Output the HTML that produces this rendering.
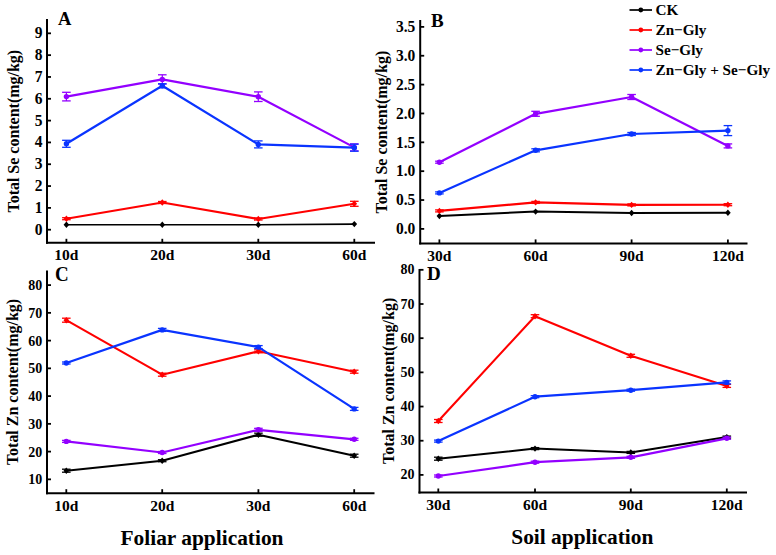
<!DOCTYPE html>
<html><head><meta charset="utf-8"><style>
html,body{margin:0;padding:0;background:#fff;}
svg{display:block;}
text{font-family:"Liberation Serif", serif;font-weight:bold;fill:#000;}
</style></head><body>
<svg width="776" height="555" viewBox="0 0 776 555">
<rect width="776" height="555" fill="#fff"/>
<line x1="47" y1="19" x2="47" y2="243.8" stroke="#000" stroke-width="2" stroke-linecap="butt"/>
<line x1="46" y1="242.8" x2="375" y2="242.8" stroke="#000" stroke-width="2" stroke-linecap="butt"/>
<line x1="47" y1="229.7" x2="51" y2="229.7" stroke="#000" stroke-width="1.8" stroke-linecap="butt"/>
<text transform="translate(42.6,229.70) scale(1,1.08)" x="0" y="4.6" text-anchor="end" font-size="15.5">0</text>
<line x1="47" y1="207.88" x2="51" y2="207.88" stroke="#000" stroke-width="1.8" stroke-linecap="butt"/>
<text transform="translate(42.6,207.88) scale(1,1.08)" x="0" y="4.6" text-anchor="end" font-size="15.5">1</text>
<line x1="47" y1="186.06" x2="51" y2="186.06" stroke="#000" stroke-width="1.8" stroke-linecap="butt"/>
<text transform="translate(42.6,186.06) scale(1,1.08)" x="0" y="4.6" text-anchor="end" font-size="15.5">2</text>
<line x1="47" y1="164.23999999999998" x2="51" y2="164.23999999999998" stroke="#000" stroke-width="1.8" stroke-linecap="butt"/>
<text transform="translate(42.6,164.24) scale(1,1.08)" x="0" y="4.6" text-anchor="end" font-size="15.5">3</text>
<line x1="47" y1="142.42" x2="51" y2="142.42" stroke="#000" stroke-width="1.8" stroke-linecap="butt"/>
<text transform="translate(42.6,142.42) scale(1,1.08)" x="0" y="4.6" text-anchor="end" font-size="15.5">4</text>
<line x1="47" y1="120.6" x2="51" y2="120.6" stroke="#000" stroke-width="1.8" stroke-linecap="butt"/>
<text transform="translate(42.6,120.60) scale(1,1.08)" x="0" y="4.6" text-anchor="end" font-size="15.5">5</text>
<line x1="47" y1="98.77999999999997" x2="51" y2="98.77999999999997" stroke="#000" stroke-width="1.8" stroke-linecap="butt"/>
<text transform="translate(42.6,98.78) scale(1,1.08)" x="0" y="4.6" text-anchor="end" font-size="15.5">6</text>
<line x1="47" y1="76.95999999999998" x2="51" y2="76.95999999999998" stroke="#000" stroke-width="1.8" stroke-linecap="butt"/>
<text transform="translate(42.6,76.96) scale(1,1.08)" x="0" y="4.6" text-anchor="end" font-size="15.5">7</text>
<line x1="47" y1="55.139999999999986" x2="51" y2="55.139999999999986" stroke="#000" stroke-width="1.8" stroke-linecap="butt"/>
<text transform="translate(42.6,55.14) scale(1,1.08)" x="0" y="4.6" text-anchor="end" font-size="15.5">8</text>
<line x1="47" y1="33.31999999999999" x2="51" y2="33.31999999999999" stroke="#000" stroke-width="1.8" stroke-linecap="butt"/>
<text transform="translate(42.6,33.32) scale(1,1.08)" x="0" y="4.6" text-anchor="end" font-size="15.5">9</text>
<line x1="66.4" y1="242.8" x2="66.4" y2="238.8" stroke="#000" stroke-width="1.8" stroke-linecap="butt"/>
<text x="66.4" y="259.6" text-anchor="middle" font-size="15.5" >10d</text>
<line x1="162.3" y1="242.8" x2="162.3" y2="238.8" stroke="#000" stroke-width="1.8" stroke-linecap="butt"/>
<text x="162.3" y="259.6" text-anchor="middle" font-size="15.5" >20d</text>
<line x1="258.3" y1="242.8" x2="258.3" y2="238.8" stroke="#000" stroke-width="1.8" stroke-linecap="butt"/>
<text x="258.3" y="259.6" text-anchor="middle" font-size="15.5" >30d</text>
<line x1="354.3" y1="242.8" x2="354.3" y2="238.8" stroke="#000" stroke-width="1.8" stroke-linecap="butt"/>
<text x="354.3" y="259.6" text-anchor="middle" font-size="15.5" >60d</text>
<text transform="translate(58.0,25.1) scale(1,1)" x="0" y="0" font-size="18.5">A</text>
<text transform="translate(18.7,131.2) rotate(-90) scale(1.018,1)" text-anchor="middle" font-size="15.7" >Total Se content(mg/kg)</text>
<polyline points="66.4,224.8 162.3,224.7 258.3,224.8 354.3,224.1" fill="none" stroke="#000000" stroke-width="1.6" stroke-linejoin="round"/>
<path d="M66.4,221.60000000000002 L69.2,224.8 L66.4,228.0 L63.60000000000001,224.8 Z" fill="#000000"/>
<path d="M162.3,221.5 L165.10000000000002,224.7 L162.3,227.89999999999998 L159.5,224.7 Z" fill="#000000"/>
<path d="M258.3,221.60000000000002 L261.1,224.8 L258.3,228.0 L255.5,224.8 Z" fill="#000000"/>
<path d="M354.3,220.9 L357.1,224.1 L354.3,227.29999999999998 L351.5,224.1 Z" fill="#000000"/>
<polyline points="66.4,218.7 162.3,202.5 258.3,219.0 354.3,203.8" fill="none" stroke="#ff0000" stroke-width="2.1" stroke-linejoin="round"/>
<line x1="66.4" y1="217.7" x2="66.4" y2="219.7" stroke="#ff0000" stroke-width="1.2" stroke-linecap="butt"/>
<line x1="62.10000000000001" y1="217.7" x2="70.7" y2="217.7" stroke="#ff0000" stroke-width="1.3" stroke-linecap="butt"/>
<line x1="62.10000000000001" y1="219.7" x2="70.7" y2="219.7" stroke="#ff0000" stroke-width="1.3" stroke-linecap="butt"/>
<path d="M66.4,215.5 L69.2,218.7 L66.4,221.89999999999998 L63.60000000000001,218.7 Z" fill="#ff0000"/>
<line x1="162.3" y1="201.5" x2="162.3" y2="203.5" stroke="#ff0000" stroke-width="1.2" stroke-linecap="butt"/>
<line x1="158.0" y1="201.5" x2="166.60000000000002" y2="201.5" stroke="#ff0000" stroke-width="1.3" stroke-linecap="butt"/>
<line x1="158.0" y1="203.5" x2="166.60000000000002" y2="203.5" stroke="#ff0000" stroke-width="1.3" stroke-linecap="butt"/>
<path d="M162.3,199.3 L165.10000000000002,202.5 L162.3,205.7 L159.5,202.5 Z" fill="#ff0000"/>
<line x1="258.3" y1="218.0" x2="258.3" y2="220.0" stroke="#ff0000" stroke-width="1.2" stroke-linecap="butt"/>
<line x1="254.0" y1="218.0" x2="262.6" y2="218.0" stroke="#ff0000" stroke-width="1.3" stroke-linecap="butt"/>
<line x1="254.0" y1="220.0" x2="262.6" y2="220.0" stroke="#ff0000" stroke-width="1.3" stroke-linecap="butt"/>
<path d="M258.3,215.8 L261.1,219.0 L258.3,222.2 L255.5,219.0 Z" fill="#ff0000"/>
<line x1="354.3" y1="201.3" x2="354.3" y2="206.3" stroke="#ff0000" stroke-width="1.2" stroke-linecap="butt"/>
<line x1="350.0" y1="201.3" x2="358.6" y2="201.3" stroke="#ff0000" stroke-width="1.3" stroke-linecap="butt"/>
<line x1="350.0" y1="206.3" x2="358.6" y2="206.3" stroke="#ff0000" stroke-width="1.3" stroke-linecap="butt"/>
<path d="M354.3,200.60000000000002 L357.1,203.8 L354.3,207.0 L351.5,203.8 Z" fill="#ff0000"/>
<polyline points="66.4,96.6 162.3,79.4 258.3,96.7 354.3,147.4" fill="none" stroke="#9300ff" stroke-width="2.2" stroke-linejoin="round"/>
<line x1="66.4" y1="92.3" x2="66.4" y2="100.89999999999999" stroke="#9300ff" stroke-width="1.2" stroke-linecap="butt"/>
<line x1="62.10000000000001" y1="92.3" x2="70.7" y2="92.3" stroke="#9300ff" stroke-width="1.3" stroke-linecap="butt"/>
<line x1="62.10000000000001" y1="100.89999999999999" x2="70.7" y2="100.89999999999999" stroke="#9300ff" stroke-width="1.3" stroke-linecap="butt"/>
<circle cx="66.4" cy="96.6" r="2.7" fill="#9300ff"/>
<line x1="162.3" y1="74.80000000000001" x2="162.3" y2="84.0" stroke="#9300ff" stroke-width="1.2" stroke-linecap="butt"/>
<line x1="158.0" y1="74.80000000000001" x2="166.60000000000002" y2="74.80000000000001" stroke="#9300ff" stroke-width="1.3" stroke-linecap="butt"/>
<line x1="158.0" y1="84.0" x2="166.60000000000002" y2="84.0" stroke="#9300ff" stroke-width="1.3" stroke-linecap="butt"/>
<circle cx="162.3" cy="79.4" r="2.7" fill="#9300ff"/>
<line x1="258.3" y1="91.9" x2="258.3" y2="101.5" stroke="#9300ff" stroke-width="1.2" stroke-linecap="butt"/>
<line x1="254.0" y1="91.9" x2="262.6" y2="91.9" stroke="#9300ff" stroke-width="1.3" stroke-linecap="butt"/>
<line x1="254.0" y1="101.5" x2="262.6" y2="101.5" stroke="#9300ff" stroke-width="1.3" stroke-linecap="butt"/>
<circle cx="258.3" cy="96.7" r="2.7" fill="#9300ff"/>
<line x1="354.3" y1="143.9" x2="354.3" y2="150.9" stroke="#9300ff" stroke-width="1.2" stroke-linecap="butt"/>
<line x1="350.0" y1="143.9" x2="358.6" y2="143.9" stroke="#9300ff" stroke-width="1.3" stroke-linecap="butt"/>
<line x1="350.0" y1="150.9" x2="358.6" y2="150.9" stroke="#9300ff" stroke-width="1.3" stroke-linecap="butt"/>
<circle cx="354.3" cy="147.4" r="2.7" fill="#9300ff"/>
<polyline points="66.4,143.8 162.3,85.8 258.3,144.4 354.3,147.7" fill="none" stroke="#0a34ff" stroke-width="2.2" stroke-linejoin="round"/>
<line x1="66.4" y1="140.3" x2="66.4" y2="147.3" stroke="#0a34ff" stroke-width="1.2" stroke-linecap="butt"/>
<line x1="62.10000000000001" y1="140.3" x2="70.7" y2="140.3" stroke="#0a34ff" stroke-width="1.3" stroke-linecap="butt"/>
<line x1="62.10000000000001" y1="147.3" x2="70.7" y2="147.3" stroke="#0a34ff" stroke-width="1.3" stroke-linecap="butt"/>
<circle cx="66.4" cy="143.8" r="2.7" fill="#0a34ff"/>
<line x1="162.3" y1="83.8" x2="162.3" y2="87.8" stroke="#0a34ff" stroke-width="1.2" stroke-linecap="butt"/>
<line x1="158.0" y1="83.8" x2="166.60000000000002" y2="83.8" stroke="#0a34ff" stroke-width="1.3" stroke-linecap="butt"/>
<line x1="158.0" y1="87.8" x2="166.60000000000002" y2="87.8" stroke="#0a34ff" stroke-width="1.3" stroke-linecap="butt"/>
<circle cx="162.3" cy="85.8" r="2.7" fill="#0a34ff"/>
<line x1="258.3" y1="140.9" x2="258.3" y2="147.9" stroke="#0a34ff" stroke-width="1.2" stroke-linecap="butt"/>
<line x1="254.0" y1="140.9" x2="262.6" y2="140.9" stroke="#0a34ff" stroke-width="1.3" stroke-linecap="butt"/>
<line x1="254.0" y1="147.9" x2="262.6" y2="147.9" stroke="#0a34ff" stroke-width="1.3" stroke-linecap="butt"/>
<circle cx="258.3" cy="144.4" r="2.7" fill="#0a34ff"/>
<line x1="354.3" y1="144.2" x2="354.3" y2="151.2" stroke="#0a34ff" stroke-width="1.2" stroke-linecap="butt"/>
<line x1="350.0" y1="144.2" x2="358.6" y2="144.2" stroke="#0a34ff" stroke-width="1.3" stroke-linecap="butt"/>
<line x1="350.0" y1="151.2" x2="358.6" y2="151.2" stroke="#0a34ff" stroke-width="1.3" stroke-linecap="butt"/>
<circle cx="354.3" cy="147.7" r="2.7" fill="#0a34ff"/>
<line x1="420.2" y1="20" x2="420.2" y2="244.4" stroke="#000" stroke-width="2" stroke-linecap="butt"/>
<line x1="419.2" y1="243.4" x2="747.5" y2="243.4" stroke="#000" stroke-width="2" stroke-linecap="butt"/>
<line x1="420.2" y1="228.9" x2="424.2" y2="228.9" stroke="#000" stroke-width="1.8" stroke-linecap="butt"/>
<text transform="translate(415.3,228.90) scale(1,1.08)" x="0" y="4.9" text-anchor="end" font-size="15.5">0.0</text>
<line x1="420.2" y1="200.04000000000002" x2="424.2" y2="200.04000000000002" stroke="#000" stroke-width="1.8" stroke-linecap="butt"/>
<text transform="translate(415.3,200.04) scale(1,1.08)" x="0" y="4.9" text-anchor="end" font-size="15.5">0.5</text>
<line x1="420.2" y1="171.18" x2="424.2" y2="171.18" stroke="#000" stroke-width="1.8" stroke-linecap="butt"/>
<text transform="translate(415.3,171.18) scale(1,1.08)" x="0" y="4.9" text-anchor="end" font-size="15.5">1.0</text>
<line x1="420.2" y1="142.32" x2="424.2" y2="142.32" stroke="#000" stroke-width="1.8" stroke-linecap="butt"/>
<text transform="translate(415.3,142.32) scale(1,1.08)" x="0" y="4.9" text-anchor="end" font-size="15.5">1.5</text>
<line x1="420.2" y1="113.46000000000001" x2="424.2" y2="113.46000000000001" stroke="#000" stroke-width="1.8" stroke-linecap="butt"/>
<text transform="translate(415.3,113.46) scale(1,1.08)" x="0" y="4.9" text-anchor="end" font-size="15.5">2.0</text>
<line x1="420.2" y1="84.6" x2="424.2" y2="84.6" stroke="#000" stroke-width="1.8" stroke-linecap="butt"/>
<text transform="translate(415.3,84.60) scale(1,1.08)" x="0" y="4.9" text-anchor="end" font-size="15.5">2.5</text>
<line x1="420.2" y1="55.74000000000001" x2="424.2" y2="55.74000000000001" stroke="#000" stroke-width="1.8" stroke-linecap="butt"/>
<text transform="translate(415.3,55.74) scale(1,1.08)" x="0" y="4.9" text-anchor="end" font-size="15.5">3.0</text>
<line x1="420.2" y1="26.880000000000024" x2="424.2" y2="26.880000000000024" stroke="#000" stroke-width="1.8" stroke-linecap="butt"/>
<text transform="translate(415.3,26.88) scale(1,1.08)" x="0" y="4.9" text-anchor="end" font-size="15.5">3.5</text>
<line x1="439.4" y1="243.4" x2="439.4" y2="239.4" stroke="#000" stroke-width="1.8" stroke-linecap="butt"/>
<text x="439.4" y="260.6" text-anchor="middle" font-size="15.5" >30d</text>
<line x1="535.6" y1="243.4" x2="535.6" y2="239.4" stroke="#000" stroke-width="1.8" stroke-linecap="butt"/>
<text x="535.6" y="260.6" text-anchor="middle" font-size="15.5" >60d</text>
<line x1="631.6" y1="243.4" x2="631.6" y2="239.4" stroke="#000" stroke-width="1.8" stroke-linecap="butt"/>
<text x="631.6" y="260.6" text-anchor="middle" font-size="15.5" >90d</text>
<line x1="727.9" y1="243.4" x2="727.9" y2="239.4" stroke="#000" stroke-width="1.8" stroke-linecap="butt"/>
<text x="727.9" y="260.6" text-anchor="middle" font-size="15.5" >120d</text>
<text transform="translate(431,27.0) scale(1,1)" x="0" y="0" font-size="19">B</text>
<text transform="translate(387.3,132.1) rotate(-90) scale(1.018,1)" text-anchor="middle" font-size="15.7" >Total Se content(mg/kg)</text>
<polyline points="439.4,216.0 535.6,211.6 631.6,213.0 727.9,212.7" fill="none" stroke="#000000" stroke-width="2" stroke-linejoin="round"/>
<path d="M439.4,212.8 L442.2,216.0 L439.4,219.2 L436.59999999999997,216.0 Z" fill="#000000"/>
<path d="M535.6,208.4 L538.4,211.6 L535.6,214.79999999999998 L532.8000000000001,211.6 Z" fill="#000000"/>
<path d="M631.6,209.8 L634.4,213.0 L631.6,216.2 L628.8000000000001,213.0 Z" fill="#000000"/>
<path d="M727.9,209.5 L730.6999999999999,212.7 L727.9,215.89999999999998 L725.1,212.7 Z" fill="#000000"/>
<polyline points="439.4,210.9 535.6,202.4 631.6,204.9 727.9,204.7" fill="none" stroke="#ff0000" stroke-width="2.1" stroke-linejoin="round"/>
<line x1="439.4" y1="209.9" x2="439.4" y2="211.9" stroke="#ff0000" stroke-width="1.2" stroke-linecap="butt"/>
<line x1="435.09999999999997" y1="209.9" x2="443.7" y2="209.9" stroke="#ff0000" stroke-width="1.3" stroke-linecap="butt"/>
<line x1="435.09999999999997" y1="211.9" x2="443.7" y2="211.9" stroke="#ff0000" stroke-width="1.3" stroke-linecap="butt"/>
<path d="M439.4,207.70000000000002 L442.2,210.9 L439.4,214.1 L436.59999999999997,210.9 Z" fill="#ff0000"/>
<line x1="535.6" y1="201.4" x2="535.6" y2="203.4" stroke="#ff0000" stroke-width="1.2" stroke-linecap="butt"/>
<line x1="531.3000000000001" y1="201.4" x2="539.9" y2="201.4" stroke="#ff0000" stroke-width="1.3" stroke-linecap="butt"/>
<line x1="531.3000000000001" y1="203.4" x2="539.9" y2="203.4" stroke="#ff0000" stroke-width="1.3" stroke-linecap="butt"/>
<path d="M535.6,199.20000000000002 L538.4,202.4 L535.6,205.6 L532.8000000000001,202.4 Z" fill="#ff0000"/>
<line x1="631.6" y1="203.9" x2="631.6" y2="205.9" stroke="#ff0000" stroke-width="1.2" stroke-linecap="butt"/>
<line x1="627.3000000000001" y1="203.9" x2="635.9" y2="203.9" stroke="#ff0000" stroke-width="1.3" stroke-linecap="butt"/>
<line x1="627.3000000000001" y1="205.9" x2="635.9" y2="205.9" stroke="#ff0000" stroke-width="1.3" stroke-linecap="butt"/>
<path d="M631.6,201.70000000000002 L634.4,204.9 L631.6,208.1 L628.8000000000001,204.9 Z" fill="#ff0000"/>
<line x1="727.9" y1="203.7" x2="727.9" y2="205.7" stroke="#ff0000" stroke-width="1.2" stroke-linecap="butt"/>
<line x1="723.6" y1="203.7" x2="732.1999999999999" y2="203.7" stroke="#ff0000" stroke-width="1.3" stroke-linecap="butt"/>
<line x1="723.6" y1="205.7" x2="732.1999999999999" y2="205.7" stroke="#ff0000" stroke-width="1.3" stroke-linecap="butt"/>
<path d="M727.9,201.5 L730.6999999999999,204.7 L727.9,207.89999999999998 L725.1,204.7 Z" fill="#ff0000"/>
<polyline points="439.4,162.2 535.6,113.8 631.6,97.0 727.9,145.9" fill="none" stroke="#9300ff" stroke-width="2.2" stroke-linejoin="round"/>
<line x1="439.4" y1="161.2" x2="439.4" y2="163.2" stroke="#9300ff" stroke-width="1.2" stroke-linecap="butt"/>
<line x1="435.09999999999997" y1="161.2" x2="443.7" y2="161.2" stroke="#9300ff" stroke-width="1.3" stroke-linecap="butt"/>
<line x1="435.09999999999997" y1="163.2" x2="443.7" y2="163.2" stroke="#9300ff" stroke-width="1.3" stroke-linecap="butt"/>
<circle cx="439.4" cy="162.2" r="2.7" fill="#9300ff"/>
<line x1="535.6" y1="111.3" x2="535.6" y2="116.3" stroke="#9300ff" stroke-width="1.2" stroke-linecap="butt"/>
<line x1="531.3000000000001" y1="111.3" x2="539.9" y2="111.3" stroke="#9300ff" stroke-width="1.3" stroke-linecap="butt"/>
<line x1="531.3000000000001" y1="116.3" x2="539.9" y2="116.3" stroke="#9300ff" stroke-width="1.3" stroke-linecap="butt"/>
<circle cx="535.6" cy="113.8" r="2.7" fill="#9300ff"/>
<line x1="631.6" y1="94.5" x2="631.6" y2="99.5" stroke="#9300ff" stroke-width="1.2" stroke-linecap="butt"/>
<line x1="627.3000000000001" y1="94.5" x2="635.9" y2="94.5" stroke="#9300ff" stroke-width="1.3" stroke-linecap="butt"/>
<line x1="627.3000000000001" y1="99.5" x2="635.9" y2="99.5" stroke="#9300ff" stroke-width="1.3" stroke-linecap="butt"/>
<circle cx="631.6" cy="97.0" r="2.7" fill="#9300ff"/>
<line x1="727.9" y1="143.9" x2="727.9" y2="147.9" stroke="#9300ff" stroke-width="1.2" stroke-linecap="butt"/>
<line x1="723.6" y1="143.9" x2="732.1999999999999" y2="143.9" stroke="#9300ff" stroke-width="1.3" stroke-linecap="butt"/>
<line x1="723.6" y1="147.9" x2="732.1999999999999" y2="147.9" stroke="#9300ff" stroke-width="1.3" stroke-linecap="butt"/>
<circle cx="727.9" cy="145.9" r="2.7" fill="#9300ff"/>
<polyline points="439.4,192.9 535.6,150.3 631.6,134.0 727.9,130.6" fill="none" stroke="#0a34ff" stroke-width="2.2" stroke-linejoin="round"/>
<line x1="439.4" y1="191.9" x2="439.4" y2="193.9" stroke="#0a34ff" stroke-width="1.2" stroke-linecap="butt"/>
<line x1="435.09999999999997" y1="191.9" x2="443.7" y2="191.9" stroke="#0a34ff" stroke-width="1.3" stroke-linecap="butt"/>
<line x1="435.09999999999997" y1="193.9" x2="443.7" y2="193.9" stroke="#0a34ff" stroke-width="1.3" stroke-linecap="butt"/>
<circle cx="439.4" cy="192.9" r="2.7" fill="#0a34ff"/>
<line x1="535.6" y1="148.8" x2="535.6" y2="151.8" stroke="#0a34ff" stroke-width="1.2" stroke-linecap="butt"/>
<line x1="531.3000000000001" y1="148.8" x2="539.9" y2="148.8" stroke="#0a34ff" stroke-width="1.3" stroke-linecap="butt"/>
<line x1="531.3000000000001" y1="151.8" x2="539.9" y2="151.8" stroke="#0a34ff" stroke-width="1.3" stroke-linecap="butt"/>
<circle cx="535.6" cy="150.3" r="2.7" fill="#0a34ff"/>
<line x1="631.6" y1="132.5" x2="631.6" y2="135.5" stroke="#0a34ff" stroke-width="1.2" stroke-linecap="butt"/>
<line x1="627.3000000000001" y1="132.5" x2="635.9" y2="132.5" stroke="#0a34ff" stroke-width="1.3" stroke-linecap="butt"/>
<line x1="627.3000000000001" y1="135.5" x2="635.9" y2="135.5" stroke="#0a34ff" stroke-width="1.3" stroke-linecap="butt"/>
<circle cx="631.6" cy="134.0" r="2.7" fill="#0a34ff"/>
<line x1="727.9" y1="125.6" x2="727.9" y2="135.6" stroke="#0a34ff" stroke-width="1.2" stroke-linecap="butt"/>
<line x1="723.6" y1="125.6" x2="732.1999999999999" y2="125.6" stroke="#0a34ff" stroke-width="1.3" stroke-linecap="butt"/>
<line x1="723.6" y1="135.6" x2="732.1999999999999" y2="135.6" stroke="#0a34ff" stroke-width="1.3" stroke-linecap="butt"/>
<circle cx="727.9" cy="130.6" r="2.7" fill="#0a34ff"/>
<line x1="47" y1="270.5" x2="47" y2="494.2" stroke="#000" stroke-width="2" stroke-linecap="butt"/>
<line x1="46" y1="493.2" x2="374.5" y2="493.2" stroke="#000" stroke-width="2" stroke-linecap="butt"/>
<line x1="47" y1="479.35" x2="51" y2="479.35" stroke="#000" stroke-width="1.8" stroke-linecap="butt"/>
<text transform="translate(42.2,479.35) scale(1,1.0)" x="0" y="4.9" text-anchor="end" font-size="14">10</text>
<line x1="47" y1="451.6" x2="51" y2="451.6" stroke="#000" stroke-width="1.8" stroke-linecap="butt"/>
<text transform="translate(42.2,451.60) scale(1,1.0)" x="0" y="4.9" text-anchor="end" font-size="14">20</text>
<line x1="47" y1="423.85" x2="51" y2="423.85" stroke="#000" stroke-width="1.8" stroke-linecap="butt"/>
<text transform="translate(42.2,423.85) scale(1,1.0)" x="0" y="4.9" text-anchor="end" font-size="14">30</text>
<line x1="47" y1="396.1" x2="51" y2="396.1" stroke="#000" stroke-width="1.8" stroke-linecap="butt"/>
<text transform="translate(42.2,396.10) scale(1,1.0)" x="0" y="4.9" text-anchor="end" font-size="14">40</text>
<line x1="47" y1="368.35" x2="51" y2="368.35" stroke="#000" stroke-width="1.8" stroke-linecap="butt"/>
<text transform="translate(42.2,368.35) scale(1,1.0)" x="0" y="4.9" text-anchor="end" font-size="14">50</text>
<line x1="47" y1="340.6" x2="51" y2="340.6" stroke="#000" stroke-width="1.8" stroke-linecap="butt"/>
<text transform="translate(42.2,340.60) scale(1,1.0)" x="0" y="4.9" text-anchor="end" font-size="14">60</text>
<line x1="47" y1="312.85" x2="51" y2="312.85" stroke="#000" stroke-width="1.8" stroke-linecap="butt"/>
<text transform="translate(42.2,312.85) scale(1,1.0)" x="0" y="4.9" text-anchor="end" font-size="14">70</text>
<line x1="47" y1="285.1" x2="51" y2="285.1" stroke="#000" stroke-width="1.8" stroke-linecap="butt"/>
<text transform="translate(42.2,285.10) scale(1,1.0)" x="0" y="4.9" text-anchor="end" font-size="14">80</text>
<line x1="66.3" y1="493.2" x2="66.3" y2="489.2" stroke="#000" stroke-width="1.8" stroke-linecap="butt"/>
<text x="66.3" y="511" text-anchor="middle" font-size="15.5" >10d</text>
<line x1="162.2" y1="493.2" x2="162.2" y2="489.2" stroke="#000" stroke-width="1.8" stroke-linecap="butt"/>
<text x="162.2" y="511" text-anchor="middle" font-size="15.5" >20d</text>
<line x1="258.4" y1="493.2" x2="258.4" y2="489.2" stroke="#000" stroke-width="1.8" stroke-linecap="butt"/>
<text x="258.4" y="511" text-anchor="middle" font-size="15.5" >30d</text>
<line x1="354.2" y1="493.2" x2="354.2" y2="489.2" stroke="#000" stroke-width="1.8" stroke-linecap="butt"/>
<text x="354.2" y="511" text-anchor="middle" font-size="15.5" >60d</text>
<text transform="translate(55,281.4) scale(1,1.06)" x="0" y="0" font-size="19">C</text>
<text transform="translate(17.6,382.0) rotate(-90) scale(1.018,1)" text-anchor="middle" font-size="15.7" >Total Zn content(mg/kg)</text>
<polyline points="66.3,470.7 162.2,460.7 258.4,434.7 354.2,455.7" fill="none" stroke="#000000" stroke-width="2" stroke-linejoin="round"/>
<line x1="66.3" y1="469.2" x2="66.3" y2="472.2" stroke="#000000" stroke-width="1.2" stroke-linecap="butt"/>
<line x1="62.0" y1="469.2" x2="70.6" y2="469.2" stroke="#000000" stroke-width="1.3" stroke-linecap="butt"/>
<line x1="62.0" y1="472.2" x2="70.6" y2="472.2" stroke="#000000" stroke-width="1.3" stroke-linecap="butt"/>
<path d="M66.3,467.5 L69.1,470.7 L66.3,473.9 L63.5,470.7 Z" fill="#000000"/>
<line x1="162.2" y1="459.7" x2="162.2" y2="461.7" stroke="#000000" stroke-width="1.2" stroke-linecap="butt"/>
<line x1="157.89999999999998" y1="459.7" x2="166.5" y2="459.7" stroke="#000000" stroke-width="1.3" stroke-linecap="butt"/>
<line x1="157.89999999999998" y1="461.7" x2="166.5" y2="461.7" stroke="#000000" stroke-width="1.3" stroke-linecap="butt"/>
<path d="M162.2,457.5 L165.0,460.7 L162.2,463.9 L159.39999999999998,460.7 Z" fill="#000000"/>
<line x1="258.4" y1="433.2" x2="258.4" y2="436.2" stroke="#000000" stroke-width="1.2" stroke-linecap="butt"/>
<line x1="254.09999999999997" y1="433.2" x2="262.7" y2="433.2" stroke="#000000" stroke-width="1.3" stroke-linecap="butt"/>
<line x1="254.09999999999997" y1="436.2" x2="262.7" y2="436.2" stroke="#000000" stroke-width="1.3" stroke-linecap="butt"/>
<path d="M258.4,431.5 L261.2,434.7 L258.4,437.9 L255.59999999999997,434.7 Z" fill="#000000"/>
<line x1="354.2" y1="454.2" x2="354.2" y2="457.2" stroke="#000000" stroke-width="1.2" stroke-linecap="butt"/>
<line x1="349.9" y1="454.2" x2="358.5" y2="454.2" stroke="#000000" stroke-width="1.3" stroke-linecap="butt"/>
<line x1="349.9" y1="457.2" x2="358.5" y2="457.2" stroke="#000000" stroke-width="1.3" stroke-linecap="butt"/>
<path d="M354.2,452.5 L357.0,455.7 L354.2,458.9 L351.4,455.7 Z" fill="#000000"/>
<polyline points="66.3,320.2 162.2,374.7 258.4,351.3 354.2,371.7" fill="none" stroke="#ff0000" stroke-width="2.1" stroke-linejoin="round"/>
<line x1="66.3" y1="318.2" x2="66.3" y2="322.2" stroke="#ff0000" stroke-width="1.2" stroke-linecap="butt"/>
<line x1="62.0" y1="318.2" x2="70.6" y2="318.2" stroke="#ff0000" stroke-width="1.3" stroke-linecap="butt"/>
<line x1="62.0" y1="322.2" x2="70.6" y2="322.2" stroke="#ff0000" stroke-width="1.3" stroke-linecap="butt"/>
<path d="M66.3,317.0 L69.1,320.2 L66.3,323.4 L63.5,320.2 Z" fill="#ff0000"/>
<line x1="162.2" y1="373.2" x2="162.2" y2="376.2" stroke="#ff0000" stroke-width="1.2" stroke-linecap="butt"/>
<line x1="157.89999999999998" y1="373.2" x2="166.5" y2="373.2" stroke="#ff0000" stroke-width="1.3" stroke-linecap="butt"/>
<line x1="157.89999999999998" y1="376.2" x2="166.5" y2="376.2" stroke="#ff0000" stroke-width="1.3" stroke-linecap="butt"/>
<path d="M162.2,371.5 L165.0,374.7 L162.2,377.9 L159.39999999999998,374.7 Z" fill="#ff0000"/>
<line x1="258.4" y1="349.8" x2="258.4" y2="352.8" stroke="#ff0000" stroke-width="1.2" stroke-linecap="butt"/>
<line x1="254.09999999999997" y1="349.8" x2="262.7" y2="349.8" stroke="#ff0000" stroke-width="1.3" stroke-linecap="butt"/>
<line x1="254.09999999999997" y1="352.8" x2="262.7" y2="352.8" stroke="#ff0000" stroke-width="1.3" stroke-linecap="butt"/>
<path d="M258.4,348.1 L261.2,351.3 L258.4,354.5 L255.59999999999997,351.3 Z" fill="#ff0000"/>
<line x1="354.2" y1="370.2" x2="354.2" y2="373.2" stroke="#ff0000" stroke-width="1.2" stroke-linecap="butt"/>
<line x1="349.9" y1="370.2" x2="358.5" y2="370.2" stroke="#ff0000" stroke-width="1.3" stroke-linecap="butt"/>
<line x1="349.9" y1="373.2" x2="358.5" y2="373.2" stroke="#ff0000" stroke-width="1.3" stroke-linecap="butt"/>
<path d="M354.2,368.5 L357.0,371.7 L354.2,374.9 L351.4,371.7 Z" fill="#ff0000"/>
<polyline points="66.3,441.4 162.2,452.5 258.4,429.8 354.2,439.3" fill="none" stroke="#9300ff" stroke-width="2.2" stroke-linejoin="round"/>
<line x1="66.3" y1="440.4" x2="66.3" y2="442.4" stroke="#9300ff" stroke-width="1.2" stroke-linecap="butt"/>
<line x1="62.0" y1="440.4" x2="70.6" y2="440.4" stroke="#9300ff" stroke-width="1.3" stroke-linecap="butt"/>
<line x1="62.0" y1="442.4" x2="70.6" y2="442.4" stroke="#9300ff" stroke-width="1.3" stroke-linecap="butt"/>
<circle cx="66.3" cy="441.4" r="2.7" fill="#9300ff"/>
<line x1="162.2" y1="451.5" x2="162.2" y2="453.5" stroke="#9300ff" stroke-width="1.2" stroke-linecap="butt"/>
<line x1="157.89999999999998" y1="451.5" x2="166.5" y2="451.5" stroke="#9300ff" stroke-width="1.3" stroke-linecap="butt"/>
<line x1="157.89999999999998" y1="453.5" x2="166.5" y2="453.5" stroke="#9300ff" stroke-width="1.3" stroke-linecap="butt"/>
<circle cx="162.2" cy="452.5" r="2.7" fill="#9300ff"/>
<line x1="258.4" y1="428.3" x2="258.4" y2="431.3" stroke="#9300ff" stroke-width="1.2" stroke-linecap="butt"/>
<line x1="254.09999999999997" y1="428.3" x2="262.7" y2="428.3" stroke="#9300ff" stroke-width="1.3" stroke-linecap="butt"/>
<line x1="254.09999999999997" y1="431.3" x2="262.7" y2="431.3" stroke="#9300ff" stroke-width="1.3" stroke-linecap="butt"/>
<circle cx="258.4" cy="429.8" r="2.7" fill="#9300ff"/>
<line x1="354.2" y1="438.3" x2="354.2" y2="440.3" stroke="#9300ff" stroke-width="1.2" stroke-linecap="butt"/>
<line x1="349.9" y1="438.3" x2="358.5" y2="438.3" stroke="#9300ff" stroke-width="1.3" stroke-linecap="butt"/>
<line x1="349.9" y1="440.3" x2="358.5" y2="440.3" stroke="#9300ff" stroke-width="1.3" stroke-linecap="butt"/>
<circle cx="354.2" cy="439.3" r="2.7" fill="#9300ff"/>
<polyline points="66.3,363.0 162.2,329.9 258.4,347.1 354.2,408.9" fill="none" stroke="#0a34ff" stroke-width="2.2" stroke-linejoin="round"/>
<line x1="66.3" y1="362.0" x2="66.3" y2="364.0" stroke="#0a34ff" stroke-width="1.2" stroke-linecap="butt"/>
<line x1="62.0" y1="362.0" x2="70.6" y2="362.0" stroke="#0a34ff" stroke-width="1.3" stroke-linecap="butt"/>
<line x1="62.0" y1="364.0" x2="70.6" y2="364.0" stroke="#0a34ff" stroke-width="1.3" stroke-linecap="butt"/>
<circle cx="66.3" cy="363.0" r="2.7" fill="#0a34ff"/>
<line x1="162.2" y1="328.4" x2="162.2" y2="331.4" stroke="#0a34ff" stroke-width="1.2" stroke-linecap="butt"/>
<line x1="157.89999999999998" y1="328.4" x2="166.5" y2="328.4" stroke="#0a34ff" stroke-width="1.3" stroke-linecap="butt"/>
<line x1="157.89999999999998" y1="331.4" x2="166.5" y2="331.4" stroke="#0a34ff" stroke-width="1.3" stroke-linecap="butt"/>
<circle cx="162.2" cy="329.9" r="2.7" fill="#0a34ff"/>
<line x1="258.4" y1="345.6" x2="258.4" y2="348.6" stroke="#0a34ff" stroke-width="1.2" stroke-linecap="butt"/>
<line x1="254.09999999999997" y1="345.6" x2="262.7" y2="345.6" stroke="#0a34ff" stroke-width="1.3" stroke-linecap="butt"/>
<line x1="254.09999999999997" y1="348.6" x2="262.7" y2="348.6" stroke="#0a34ff" stroke-width="1.3" stroke-linecap="butt"/>
<circle cx="258.4" cy="347.1" r="2.7" fill="#0a34ff"/>
<line x1="354.2" y1="407.4" x2="354.2" y2="410.4" stroke="#0a34ff" stroke-width="1.2" stroke-linecap="butt"/>
<line x1="349.9" y1="407.4" x2="358.5" y2="407.4" stroke="#0a34ff" stroke-width="1.3" stroke-linecap="butt"/>
<line x1="349.9" y1="410.4" x2="358.5" y2="410.4" stroke="#0a34ff" stroke-width="1.3" stroke-linecap="butt"/>
<circle cx="354.2" cy="408.9" r="2.7" fill="#0a34ff"/>
<line x1="419.5" y1="269" x2="419.5" y2="493.5" stroke="#000" stroke-width="2" stroke-linecap="butt"/>
<line x1="418.5" y1="492.5" x2="747" y2="492.5" stroke="#000" stroke-width="2" stroke-linecap="butt"/>
<line x1="419.5" y1="474.9" x2="423.5" y2="474.9" stroke="#000" stroke-width="1.8" stroke-linecap="butt"/>
<text transform="translate(414.6,474.90) scale(1,1.0)" x="0" y="4.5" text-anchor="end" font-size="14">20</text>
<line x1="419.5" y1="440.71999999999997" x2="423.5" y2="440.71999999999997" stroke="#000" stroke-width="1.8" stroke-linecap="butt"/>
<text transform="translate(414.6,440.72) scale(1,1.0)" x="0" y="4.5" text-anchor="end" font-size="14">30</text>
<line x1="419.5" y1="406.53999999999996" x2="423.5" y2="406.53999999999996" stroke="#000" stroke-width="1.8" stroke-linecap="butt"/>
<text transform="translate(414.6,406.54) scale(1,1.0)" x="0" y="4.5" text-anchor="end" font-size="14">40</text>
<line x1="419.5" y1="372.36" x2="423.5" y2="372.36" stroke="#000" stroke-width="1.8" stroke-linecap="butt"/>
<text transform="translate(414.6,372.36) scale(1,1.0)" x="0" y="4.5" text-anchor="end" font-size="14">50</text>
<line x1="419.5" y1="338.17999999999995" x2="423.5" y2="338.17999999999995" stroke="#000" stroke-width="1.8" stroke-linecap="butt"/>
<text transform="translate(414.6,338.18) scale(1,1.0)" x="0" y="4.5" text-anchor="end" font-size="14">60</text>
<line x1="419.5" y1="304.0" x2="423.5" y2="304.0" stroke="#000" stroke-width="1.8" stroke-linecap="butt"/>
<text transform="translate(414.6,304.00) scale(1,1.0)" x="0" y="4.5" text-anchor="end" font-size="14">70</text>
<line x1="419.5" y1="269.82" x2="423.5" y2="269.82" stroke="#000" stroke-width="1.8" stroke-linecap="butt"/>
<text transform="translate(414.6,269.82) scale(1,1.0)" x="0" y="4.5" text-anchor="end" font-size="14">80</text>
<line x1="438.3" y1="492.5" x2="438.3" y2="488.5" stroke="#000" stroke-width="1.8" stroke-linecap="butt"/>
<text x="438.3" y="509.6" text-anchor="middle" font-size="15.5" >30d</text>
<line x1="535.0" y1="492.5" x2="535.0" y2="488.5" stroke="#000" stroke-width="1.8" stroke-linecap="butt"/>
<text x="535.0" y="509.6" text-anchor="middle" font-size="15.5" >60d</text>
<line x1="630.8" y1="492.5" x2="630.8" y2="488.5" stroke="#000" stroke-width="1.8" stroke-linecap="butt"/>
<text x="630.8" y="509.6" text-anchor="middle" font-size="15.5" >90d</text>
<line x1="726.8" y1="492.5" x2="726.8" y2="488.5" stroke="#000" stroke-width="1.8" stroke-linecap="butt"/>
<text x="726.8" y="509.6" text-anchor="middle" font-size="15.5" >120d</text>
<text transform="translate(427.0,279.6) scale(1,1)" x="0" y="0" font-size="19">D</text>
<text transform="translate(393.8,380.9) rotate(-90) scale(1.018,1)" text-anchor="middle" font-size="15.7" >Total Zn content(mg/kg)</text>
<polyline points="438.3,458.7 535.0,448.6 630.8,452.4 726.8,437.1" fill="none" stroke="#000000" stroke-width="2" stroke-linejoin="round"/>
<line x1="438.3" y1="457.2" x2="438.3" y2="460.2" stroke="#000000" stroke-width="1.2" stroke-linecap="butt"/>
<line x1="434.0" y1="457.2" x2="442.6" y2="457.2" stroke="#000000" stroke-width="1.3" stroke-linecap="butt"/>
<line x1="434.0" y1="460.2" x2="442.6" y2="460.2" stroke="#000000" stroke-width="1.3" stroke-linecap="butt"/>
<path d="M438.3,455.5 L441.1,458.7 L438.3,461.9 L435.5,458.7 Z" fill="#000000"/>
<line x1="535.0" y1="447.6" x2="535.0" y2="449.6" stroke="#000000" stroke-width="1.2" stroke-linecap="butt"/>
<line x1="530.7" y1="447.6" x2="539.3" y2="447.6" stroke="#000000" stroke-width="1.3" stroke-linecap="butt"/>
<line x1="530.7" y1="449.6" x2="539.3" y2="449.6" stroke="#000000" stroke-width="1.3" stroke-linecap="butt"/>
<path d="M535.0,445.40000000000003 L537.8,448.6 L535.0,451.8 L532.2,448.6 Z" fill="#000000"/>
<line x1="630.8" y1="451.4" x2="630.8" y2="453.4" stroke="#000000" stroke-width="1.2" stroke-linecap="butt"/>
<line x1="626.5" y1="451.4" x2="635.0999999999999" y2="451.4" stroke="#000000" stroke-width="1.3" stroke-linecap="butt"/>
<line x1="626.5" y1="453.4" x2="635.0999999999999" y2="453.4" stroke="#000000" stroke-width="1.3" stroke-linecap="butt"/>
<path d="M630.8,449.2 L633.5999999999999,452.4 L630.8,455.59999999999997 L628.0,452.4 Z" fill="#000000"/>
<line x1="726.8" y1="436.1" x2="726.8" y2="438.1" stroke="#000000" stroke-width="1.2" stroke-linecap="butt"/>
<line x1="722.5" y1="436.1" x2="731.0999999999999" y2="436.1" stroke="#000000" stroke-width="1.3" stroke-linecap="butt"/>
<line x1="722.5" y1="438.1" x2="731.0999999999999" y2="438.1" stroke="#000000" stroke-width="1.3" stroke-linecap="butt"/>
<path d="M726.8,433.90000000000003 L729.5999999999999,437.1 L726.8,440.3 L724.0,437.1 Z" fill="#000000"/>
<polyline points="438.3,421.0 535.0,316.2 630.8,355.8 726.8,385.9" fill="none" stroke="#ff0000" stroke-width="2.1" stroke-linejoin="round"/>
<line x1="438.3" y1="419.5" x2="438.3" y2="422.5" stroke="#ff0000" stroke-width="1.2" stroke-linecap="butt"/>
<line x1="434.0" y1="419.5" x2="442.6" y2="419.5" stroke="#ff0000" stroke-width="1.3" stroke-linecap="butt"/>
<line x1="434.0" y1="422.5" x2="442.6" y2="422.5" stroke="#ff0000" stroke-width="1.3" stroke-linecap="butt"/>
<path d="M438.3,417.8 L441.1,421.0 L438.3,424.2 L435.5,421.0 Z" fill="#ff0000"/>
<line x1="535.0" y1="314.7" x2="535.0" y2="317.7" stroke="#ff0000" stroke-width="1.2" stroke-linecap="butt"/>
<line x1="530.7" y1="314.7" x2="539.3" y2="314.7" stroke="#ff0000" stroke-width="1.3" stroke-linecap="butt"/>
<line x1="530.7" y1="317.7" x2="539.3" y2="317.7" stroke="#ff0000" stroke-width="1.3" stroke-linecap="butt"/>
<path d="M535.0,313.0 L537.8,316.2 L535.0,319.4 L532.2,316.2 Z" fill="#ff0000"/>
<line x1="630.8" y1="354.3" x2="630.8" y2="357.3" stroke="#ff0000" stroke-width="1.2" stroke-linecap="butt"/>
<line x1="626.5" y1="354.3" x2="635.0999999999999" y2="354.3" stroke="#ff0000" stroke-width="1.3" stroke-linecap="butt"/>
<line x1="626.5" y1="357.3" x2="635.0999999999999" y2="357.3" stroke="#ff0000" stroke-width="1.3" stroke-linecap="butt"/>
<path d="M630.8,352.6 L633.5999999999999,355.8 L630.8,359.0 L628.0,355.8 Z" fill="#ff0000"/>
<line x1="726.8" y1="384.4" x2="726.8" y2="387.4" stroke="#ff0000" stroke-width="1.2" stroke-linecap="butt"/>
<line x1="722.5" y1="384.4" x2="731.0999999999999" y2="384.4" stroke="#ff0000" stroke-width="1.3" stroke-linecap="butt"/>
<line x1="722.5" y1="387.4" x2="731.0999999999999" y2="387.4" stroke="#ff0000" stroke-width="1.3" stroke-linecap="butt"/>
<path d="M726.8,382.7 L729.5999999999999,385.9 L726.8,389.09999999999997 L724.0,385.9 Z" fill="#ff0000"/>
<polyline points="438.3,476.0 535.0,462.2 630.8,457.3 726.8,438.3" fill="none" stroke="#9300ff" stroke-width="2.2" stroke-linejoin="round"/>
<line x1="438.3" y1="475.0" x2="438.3" y2="477.0" stroke="#9300ff" stroke-width="1.2" stroke-linecap="butt"/>
<line x1="434.0" y1="475.0" x2="442.6" y2="475.0" stroke="#9300ff" stroke-width="1.3" stroke-linecap="butt"/>
<line x1="434.0" y1="477.0" x2="442.6" y2="477.0" stroke="#9300ff" stroke-width="1.3" stroke-linecap="butt"/>
<circle cx="438.3" cy="476.0" r="2.7" fill="#9300ff"/>
<line x1="535.0" y1="461.2" x2="535.0" y2="463.2" stroke="#9300ff" stroke-width="1.2" stroke-linecap="butt"/>
<line x1="530.7" y1="461.2" x2="539.3" y2="461.2" stroke="#9300ff" stroke-width="1.3" stroke-linecap="butt"/>
<line x1="530.7" y1="463.2" x2="539.3" y2="463.2" stroke="#9300ff" stroke-width="1.3" stroke-linecap="butt"/>
<circle cx="535.0" cy="462.2" r="2.7" fill="#9300ff"/>
<line x1="630.8" y1="456.3" x2="630.8" y2="458.3" stroke="#9300ff" stroke-width="1.2" stroke-linecap="butt"/>
<line x1="626.5" y1="456.3" x2="635.0999999999999" y2="456.3" stroke="#9300ff" stroke-width="1.3" stroke-linecap="butt"/>
<line x1="626.5" y1="458.3" x2="635.0999999999999" y2="458.3" stroke="#9300ff" stroke-width="1.3" stroke-linecap="butt"/>
<circle cx="630.8" cy="457.3" r="2.7" fill="#9300ff"/>
<line x1="726.8" y1="437.3" x2="726.8" y2="439.3" stroke="#9300ff" stroke-width="1.2" stroke-linecap="butt"/>
<line x1="722.5" y1="437.3" x2="731.0999999999999" y2="437.3" stroke="#9300ff" stroke-width="1.3" stroke-linecap="butt"/>
<line x1="722.5" y1="439.3" x2="731.0999999999999" y2="439.3" stroke="#9300ff" stroke-width="1.3" stroke-linecap="butt"/>
<circle cx="726.8" cy="438.3" r="2.7" fill="#9300ff"/>
<polyline points="438.3,441.1 535.0,396.7 630.8,390.2 726.8,382.4" fill="none" stroke="#0a34ff" stroke-width="2.2" stroke-linejoin="round"/>
<line x1="438.3" y1="440.1" x2="438.3" y2="442.1" stroke="#0a34ff" stroke-width="1.2" stroke-linecap="butt"/>
<line x1="434.0" y1="440.1" x2="442.6" y2="440.1" stroke="#0a34ff" stroke-width="1.3" stroke-linecap="butt"/>
<line x1="434.0" y1="442.1" x2="442.6" y2="442.1" stroke="#0a34ff" stroke-width="1.3" stroke-linecap="butt"/>
<circle cx="438.3" cy="441.1" r="2.7" fill="#0a34ff"/>
<line x1="535.0" y1="395.7" x2="535.0" y2="397.7" stroke="#0a34ff" stroke-width="1.2" stroke-linecap="butt"/>
<line x1="530.7" y1="395.7" x2="539.3" y2="395.7" stroke="#0a34ff" stroke-width="1.3" stroke-linecap="butt"/>
<line x1="530.7" y1="397.7" x2="539.3" y2="397.7" stroke="#0a34ff" stroke-width="1.3" stroke-linecap="butt"/>
<circle cx="535.0" cy="396.7" r="2.7" fill="#0a34ff"/>
<line x1="630.8" y1="389.2" x2="630.8" y2="391.2" stroke="#0a34ff" stroke-width="1.2" stroke-linecap="butt"/>
<line x1="626.5" y1="389.2" x2="635.0999999999999" y2="389.2" stroke="#0a34ff" stroke-width="1.3" stroke-linecap="butt"/>
<line x1="626.5" y1="391.2" x2="635.0999999999999" y2="391.2" stroke="#0a34ff" stroke-width="1.3" stroke-linecap="butt"/>
<circle cx="630.8" cy="390.2" r="2.7" fill="#0a34ff"/>
<line x1="726.8" y1="380.9" x2="726.8" y2="383.9" stroke="#0a34ff" stroke-width="1.2" stroke-linecap="butt"/>
<line x1="722.5" y1="380.9" x2="731.0999999999999" y2="380.9" stroke="#0a34ff" stroke-width="1.3" stroke-linecap="butt"/>
<line x1="722.5" y1="383.9" x2="731.0999999999999" y2="383.9" stroke="#0a34ff" stroke-width="1.3" stroke-linecap="butt"/>
<circle cx="726.8" cy="382.4" r="2.7" fill="#0a34ff"/>
<line x1="629.5" y1="10.0" x2="652" y2="10.0" stroke="#000000" stroke-width="1.7" stroke-linecap="butt"/>
<circle cx="640.8" cy="10.0" r="2.4" fill="#000000"/>
<text transform="translate(655.5,10.0) scale(1,1)" x="0" y="5.3" font-size="15.2">CK</text>
<line x1="629.5" y1="30.0" x2="652" y2="30.0" stroke="#ff0000" stroke-width="1.7" stroke-linecap="butt"/>
<circle cx="640.8" cy="30.0" r="2.4" fill="#ff0000"/>
<text transform="translate(655.5,30.0) scale(1,1)" x="0" y="5.3" font-size="15.2">Zn−Gly</text>
<line x1="629.5" y1="50.0" x2="652" y2="50.0" stroke="#9300ff" stroke-width="1.7" stroke-linecap="butt"/>
<circle cx="640.8" cy="50.0" r="2.4" fill="#9300ff"/>
<text transform="translate(655.5,50.0) scale(1,1)" x="0" y="5.3" font-size="15.2">Se−Gly</text>
<line x1="629.5" y1="70.0" x2="652" y2="70.0" stroke="#0a34ff" stroke-width="1.7" stroke-linecap="butt"/>
<circle cx="640.8" cy="70.0" r="2.4" fill="#0a34ff"/>
<text transform="translate(655.5,70.0) scale(1,1)" x="0" y="5.3" font-size="15.2">Zn−Gly + Se−Gly</text>
<text x="202" y="545.2" text-anchor="middle" font-size="21.4" >Foliar application</text>
<text x="582.3" y="543.9" text-anchor="middle" font-size="21.4" >Soil application</text>
</svg>
</body></html>
